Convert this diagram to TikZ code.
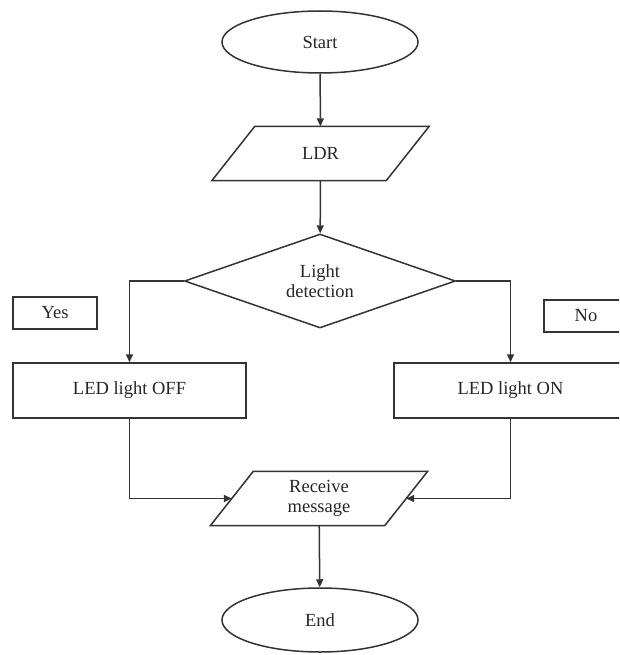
\documentclass[tikz,border=0pt]{standalone}
\usepackage{fontspec}
\setmainfont{Liberation Serif}
\usetikzlibrary{shapes.geometric,arrows.meta}
\begin{document}
\begin{tikzpicture}[x=1pt,y=-1pt,
  every node/.style={font=\fontsize{18.5}{20}\selectfont, text=black!85, inner sep=0pt},
  base/.style={draw=black!80, line width=1.5pt},
  term/.style={base, ellipse, minimum width=196pt, minimum height=62pt},
  iobody/.style={rectangle, minimum width=174pt, minimum height=54pt, align=center},
  decision/.style={base, diamond, aspect=2.9, minimum width=271pt, minimum height=94pt, align=center},
  procbox/.style={base, rectangle, minimum width=233pt, minimum height=55pt},
  tagbox/.style={base, rectangle, minimum width=84pt, minimum height=32pt},
  conn/.style={draw=black!80, line width=1.5pt, -{Triangle[length=8pt,width=7pt]}}
]
\useasboundingbox (0,0) rectangle (619,655);
\clip (0,0) rectangle (619,655);
\node[term] (start) at (320,42) {Start};
\node[iobody] (ldr) at (320.5,153.5) {LDR};
\draw[base] ([xshift=21.5pt]ldr.north west) -- ([xshift=21.5pt]ldr.north east)
  -- ([xshift=-21.5pt]ldr.south east) -- ([xshift=-21.5pt]ldr.south west) -- cycle;
\node[decision] (dec) at (320,281) {Light\\detection};
\node[tagbox] (yes) at (55,313) {Yes};
\node[tagbox] (no) at (586,316) {No};
\node[procbox] (off) at (129.5,390.5) {LED light OFF};
\node[procbox] (on) at (510.5,390.5) {LED light ON};
\node[iobody] (rec) at (319,498.5) {Receive\\message};
\draw[base] ([xshift=21.5pt]rec.north west) -- ([xshift=21.5pt]rec.north east)
  -- ([xshift=-21.5pt]rec.south east) -- ([xshift=-21.5pt]rec.south west) -- cycle;
\node[term, minimum height=64pt] (end) at (320,620) {End};
\draw[conn] (start) -- (ldr);
\draw[conn] (ldr) -- (dec);
\draw[conn] (dec.west) -| (off.north);
\draw[conn] (dec.east) -| (on.north);
\draw[conn] (off.south) |- (rec.west);
\draw[conn] (on.south) |- (rec.east);
\draw[conn] (rec) -- (end);
\end{tikzpicture}
\end{document}
